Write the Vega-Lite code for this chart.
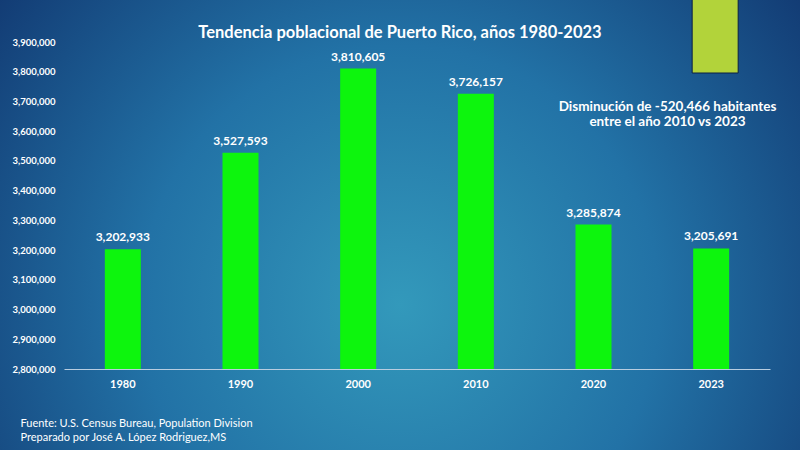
{
  "$schema": "https://vega.github.io/schema/vega-lite/v6.json",
  "width": 800,
  "height": 450,
  "autosize": "none",
  "padding": 0,
  "background": "#0f2f6a",
  "config": {
    "view": {
      "stroke": null,
      "fill": {
        "gradient": "radial",
        "x1": 0.5, "y1": 0.6, "r1": 0,
        "x2": 0.5, "y2": 0.6, "r2": 0.72,
        "stops": [
          {"offset": 0, "color": "#3399bb"},
          {"offset": 0.45, "color": "#2272a6"},
          {"offset": 1, "color": "#0e2c66"}
        ]
      }
    },
    "font": "Lato"
  },
  "title": {
    "text": "Tendencia poblacional de Puerto Rico, años 1980-2023",
    "anchor": "middle",
    "frame": "group",
    "orient": "top",
    "offset": -56,
    "baseline": "middle",
    "color": "#ffffff",
    "font": "Lato",
    "fontSize": 16.5,
    "fontWeight": "bold"
  },
  "data": {
    "values": [
      {"year": "1980", "pop": 3202933},
      {"year": "1990", "pop": 3527593},
      {"year": "2000", "pop": 3810605},
      {"year": "2010", "pop": 3726157},
      {"year": "2020", "pop": 3285874},
      {"year": "2023", "pop": 3205691}
    ]
  },
  "layer": [
    {
      "mark": {"type": "bar", "color": "#0df50d", "size": 36, "clip": false},
      "encoding": {
        "x": {
          "field": "year", "type": "nominal", "sort": null,
          "scale": {"range": [64, 770], "paddingInner": 0.69, "paddingOuter": 0.345},
          "axis": {
            "offset": -81,
            "domainColor": "#b8cde0",
            "domainWidth": 1.2,
            "ticks": false,
            "labelAngle": 0,
            "labelColor": "#ffffff",
            "labelFont": "Lato",
            "labelFontWeight": "bold",
            "labelFontSize": 11,
            "labelPadding": 9,
            "title": ["Fuente: U.S. Census Bureau, Population Division", "Preparado por José A. López Rodriguez,MS"],
            "titleColor": "#ffffff",
            "titleFont": "Lato",
            "titleFontWeight": "normal",
            "titleFontSize": 11,
            "titleLineHeight": 14,
            "titleAnchor": "start",
            "titleAlign": "left",
            "titleBaseline": "middle",
            "titleX": 20,
            "titleY": 54
          }
        },
        "y": {
          "field": "pop", "type": "quantitative",
          "scale": {"domain": [2800000, 3900000], "range": [369, 42], "nice": false, "zero": false},
          "axis": {
            "offset": -64,
            "values": [2800000, 2900000, 3000000, 3100000, 3200000, 3300000, 3400000, 3500000, 3600000, 3700000, 3800000, 3900000],
            "format": ",.0f",
            "domain": false,
            "ticks": false,
            "grid": false,
            "labelColor": "#ffffff",
            "labelFont": "Lato",
            "labelFontWeight": "bold",
            "labelFontSize": 9.5,
            "labelPadding": 9,
            "title": null
          }
        },
        "y2": {"datum": 2800000}
      }
    },
    {
      "mark": {"type": "text", "baseline": "bottom", "dy": -5, "color": "#ffffff", "font": "Lato", "fontWeight": "bold", "fontSize": 12},
      "encoding": {
        "x": {"field": "year", "type": "nominal", "sort": null},
        "y": {"field": "pop", "type": "quantitative"},
        "text": {"field": "pop", "type": "quantitative", "format": ",.0f"}
      }
    },
    {
      "data": {"values": [{}]},
      "mark": {"type": "bar", "color": "#b2d33a", "size": 46, "xOffset": 4, "clip": false, "stroke": "#0a1f45", "strokeWidth": 1},
      "encoding": {
        "x": {"datum": "2023", "type": "nominal"},
        "y": {"datum": 3795700, "type": "quantitative"},
        "y2": {"datum": 4060000}
      }
    },
    {
      "data": {"values": [{}]},
      "mark": {"type": "text", "align": "center", "baseline": "middle", "lineBreak": "\n", "lineHeight": 15, "dx": 74, "color": "#ffffff", "font": "Lato", "fontWeight": "bold", "fontSize": 13.5},
      "encoding": {
        "x": {"datum": "2020", "type": "nominal"},
        "y": {"datum": 3682000, "type": "quantitative"},
        "text": {"value": "Disminución de  -520,466 habitantes\nentre el año 2010 vs 2023"}
      }
    }
  ]
}
